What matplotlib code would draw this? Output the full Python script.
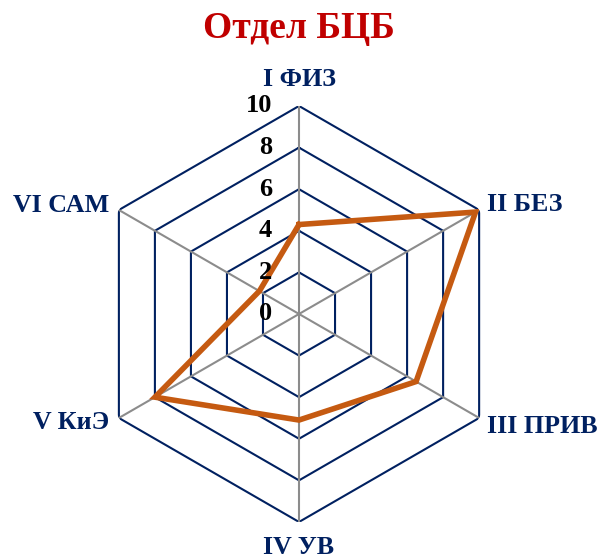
import numpy as np
import matplotlib.pyplot as plt

plt.rcParams['font.family'] = ['Liberation Serif', 'DejaVu Serif']

categories = ["I ФИЗ", "II БЕЗ", "III ПРИВ", "IV УВ", "V КиЭ", "VI САМ"]
values = [4.3, 9.8, 6.5, 5.1, 8.0, 2.2]
ticks = [0, 2, 4, 6, 8, 10]

navy = "#002060"
orange = "#C55A11"

n = len(categories)
angles = np.linspace(0, 2 * np.pi, n, endpoint=False)
closed = np.append(angles, angles[0])

fig = plt.figure(figsize=(6, 5.56), dpi=100)
ax = fig.add_axes([0.1517, 0.0612, 0.6933, 0.7482], projection="polar")
ax.set_theta_offset(np.pi / 2)
ax.set_theta_direction(-1)
ax.set_ylim(0, 10)
ax.grid(False)
ax.spines["polar"].set_visible(False)
ax.set_xticks([])
ax.set_yticks([])
ax.patch.set_visible(False)

# hexagon grid
for t in ticks[1:]:
    ax.plot(closed, [t] * (n + 1), color=navy, lw=1.5, zorder=1)
# spokes
for a in angles:
    ax.plot([a, a], [0, 10], color="#8c8c8c", lw=1.5, zorder=2)

# data
ax.plot(closed, values + values[:1], color=orange, lw=4, zorder=3,
        solid_joinstyle="miter")

# radial tick labels
for t in ticks:
    ax.annotate(str(t), xy=(0, t), xytext=(-19.5, 0), textcoords="offset points",
                ha="right", va="center", fontsize=19, fontweight="bold",
                color="black", annotation_clip=False)

# category labels
offsets = [(0, 11, "center", "bottom"), (6, 4, "left", "center"),
           (6, -6, "left", "center"), (0, -10, "center", "top"),
           (-7, -3, "right", "center"), (-7, 3, "right", "center")]
for a, lab, (dx, dy, ha, va) in zip(angles, categories, offsets):
    ax.annotate(lab, xy=(a, 10), xytext=(dx, dy), textcoords="offset points",
                ha=ha, va=va, fontsize=18.7, fontweight="bold", color=navy,
                annotation_clip=False)

fig.text(0.498, 0.948, "Отдел БЦБ", ha="center", va="center",
         fontsize=27, fontweight="bold", color="#C00000")

fig.savefig("out.png", dpi=100)
